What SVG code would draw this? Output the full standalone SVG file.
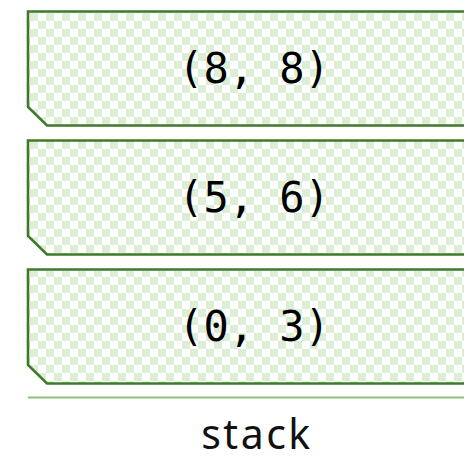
<svg xmlns="http://www.w3.org/2000/svg" width="464" height="461" viewBox="0 0 464 461">
  <defs>
    <pattern id="checker" patternUnits="userSpaceOnUse" x="30" y="13" width="16" height="16">
      <rect width="16" height="16" fill="#ffffff"/>
      <rect x="0" y="0" width="8" height="8" fill="#dcefd6"/>
      <rect x="8" y="8" width="8" height="8" fill="#dcefd6"/>
    </pattern>
    <style>
      .box { fill: url(#checker); stroke: #3e7a2a; stroke-width: 2.6; }
      .val { font-family: "DejaVu Sans Mono", monospace; font-size: 42px; fill: #000000; text-anchor: middle; }
      .label { font-family: "Noto Sans", "DejaVu Sans", sans-serif; font-size: 41px; fill: #111111; text-anchor: middle; letter-spacing: 2.5px; }
      .sep { stroke: #8cc27a; stroke-width: 2; }
    </style>
  </defs>
  <g id="node-8-8">
    <path class="box" d="M28,11.5 H470 V125.5 H47 L28,107 Z"/>
    <text class="val" x="254" y="83">(8, 8)</text>
  </g>
  <g id="node-5-6">
    <path class="box" d="M28,140.5 H470 V254.5 H47 L28,236 Z"/>
    <text class="val" x="254" y="212">(5, 6)</text>
  </g>
  <g id="node-0-3">
    <path class="box" d="M28,269.5 H470 V383.5 H47 L28,365 Z"/>
    <text class="val" x="254" y="341">(0, 3)</text>
  </g>
  <g id="connectors">
    <line class="sep" x1="28" y1="397.5" x2="464" y2="397.5"/>
  </g>
  <g id="label">
    <text class="label" x="257" y="449">stack</text>
  </g>
</svg>
